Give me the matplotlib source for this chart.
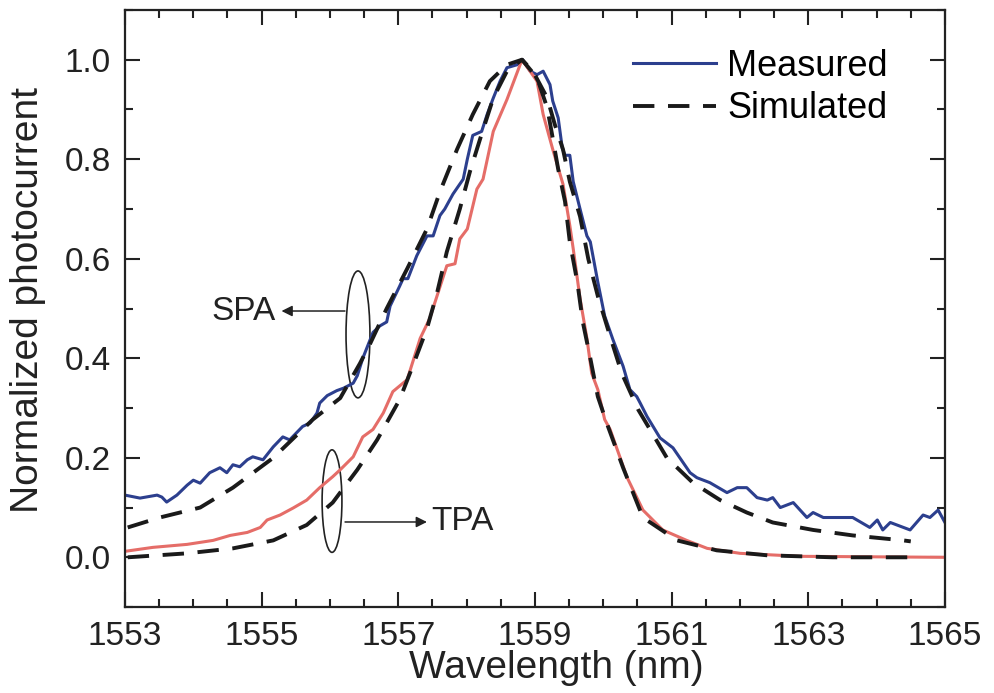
import numpy as np
import matplotlib
matplotlib.use('Agg')
import matplotlib.pyplot as plt
from matplotlib.patches import Ellipse
from matplotlib.ticker import MultipleLocator

plt.rcParams['font.family'] = ['Liberation Sans', 'DejaVu Sans']

# SPA measured (blue)
spa_wl = [1553.00, 1553.22, 1553.47, 1553.54, 1553.61, 1553.76, 1553.91, 1554.00, 1554.10, 1554.24,
          1554.39, 1554.49, 1554.58, 1554.68, 1554.79, 1554.87, 1555.02, 1555.17, 1555.31, 1555.41,
          1555.60, 1555.71, 1555.81, 1555.85, 1555.96, 1556.10, 1556.20, 1556.34, 1556.40, 1556.48,
          1556.63, 1556.73, 1556.83, 1556.88, 1557.02, 1557.07, 1557.14, 1557.27, 1557.42, 1557.51,
          1557.61, 1557.68, 1557.80, 1557.95, 1558.01, 1558.09, 1558.22, 1558.30, 1558.39, 1558.49,
          1558.59, 1558.74, 1558.82, 1558.93, 1559.03, 1559.12, 1559.22, 1559.26, 1559.34, 1559.40,
          1559.44, 1559.51, 1559.56, 1559.66, 1559.76, 1559.81, 1559.92, 1560.02, 1560.14, 1560.29,
          1560.39, 1560.49, 1560.54, 1560.64, 1560.83, 1561.02, 1561.27, 1561.37, 1561.56, 1561.81,
          1561.96, 1562.10, 1562.25, 1562.40, 1562.48, 1562.59, 1562.78, 1562.98, 1563.07, 1563.22,
          1563.65, 1563.90, 1564.01, 1564.09, 1564.20, 1564.49, 1564.68, 1564.78, 1564.90, 1565.00]
spa_meas = [0.125, 0.119, 0.125, 0.121, 0.111, 0.125, 0.145, 0.155, 0.149, 0.170,
            0.180, 0.170, 0.186, 0.182, 0.196, 0.202, 0.196, 0.222, 0.242, 0.236,
            0.263, 0.270, 0.290, 0.310, 0.325, 0.335, 0.340, 0.350, 0.365, 0.400,
            0.452, 0.465, 0.473, 0.505, 0.545, 0.560, 0.560, 0.606, 0.646, 0.646,
            0.687, 0.700, 0.730, 0.760, 0.800, 0.848, 0.856, 0.890, 0.923, 0.957,
            0.984, 0.990, 1.000, 0.977, 0.970, 0.977, 0.950, 0.917, 0.883, 0.822,
            0.808, 0.808, 0.755, 0.700, 0.646, 0.634, 0.553, 0.485, 0.438, 0.384,
            0.337, 0.323, 0.310, 0.283, 0.240, 0.220, 0.170, 0.160, 0.150, 0.130,
            0.140, 0.140, 0.120, 0.115, 0.120, 0.100, 0.110, 0.080, 0.090, 0.080,
            0.080, 0.060, 0.075, 0.055, 0.070, 0.055, 0.085, 0.080, 0.095, 0.070]

# TPA measured (red)
tpa_wl = [1553.00, 1553.41, 1553.91, 1554.29, 1554.54, 1554.79, 1554.98, 1555.08, 1555.27, 1555.46,
          1555.66, 1555.85, 1556.04, 1556.15, 1556.34, 1556.48, 1556.63, 1556.78, 1556.92, 1557.13,
          1557.32, 1557.46, 1557.71, 1557.83, 1557.90, 1558.01, 1558.15, 1558.24, 1558.39, 1558.59,
          1558.81, 1559.03, 1559.12, 1559.26, 1559.41, 1559.51, 1559.56, 1559.66, 1559.76, 1559.83,
          1559.92, 1560.02, 1560.10, 1560.35, 1560.58, 1560.87, 1561.22, 1561.52, 1562.00, 1562.88,
          1565.00]
tpa_meas = [0.012, 0.020, 0.026, 0.034, 0.044, 0.050, 0.060, 0.075, 0.085, 0.099,
            0.115, 0.140, 0.162, 0.176, 0.202, 0.242, 0.257, 0.290, 0.333, 0.357,
            0.440, 0.480, 0.586, 0.590, 0.640, 0.660, 0.740, 0.760, 0.856, 0.920,
            1.000, 0.957, 0.890, 0.820, 0.750, 0.667, 0.620, 0.520, 0.440, 0.370,
            0.337, 0.277, 0.257, 0.160, 0.095, 0.055, 0.034, 0.018, 0.008, 0.002,
            0.000]

# simulated curves (black dashed)
spa_sim_wl = [1553.04, 1553.51, 1554.10, 1554.58, 1555.17, 1555.75, 1556.15, 1556.44, 1556.59, 1556.83,
              1557.13, 1557.42, 1557.61, 1557.86, 1558.09, 1558.34, 1558.59, 1558.81, 1558.97, 1559.18,
              1559.29, 1559.41, 1559.51, 1559.66, 1559.78, 1559.92, 1560.10, 1560.27, 1560.51, 1560.93,
              1561.31, 1561.71, 1562.10, 1562.48, 1563.07, 1563.65, 1564.39, 1564.50]
spa_sim = [0.060, 0.080, 0.100, 0.140, 0.200, 0.277, 0.320, 0.390, 0.430, 0.500,
           0.580, 0.660, 0.735, 0.820, 0.890, 0.957, 0.990, 1.000, 0.977, 0.923,
           0.870, 0.820, 0.755, 0.685, 0.600, 0.525, 0.444, 0.370, 0.297, 0.200,
           0.150, 0.115, 0.090, 0.070, 0.055, 0.044, 0.034, 0.032]

tpa_sim_wl = [1553.04, 1553.91, 1554.58, 1555.17, 1555.66, 1556.04, 1556.40, 1556.69, 1557.02, 1557.21,
              1557.42, 1557.57, 1557.71, 1557.90, 1558.05, 1558.20, 1558.39, 1558.59, 1558.81, 1559.03,
              1559.18, 1559.25, 1559.34, 1559.44, 1559.51, 1559.62, 1559.70, 1559.81, 1559.92, 1560.05,
              1560.29, 1560.58, 1561.08, 1561.66, 1562.40, 1563.36, 1564.59]
tpa_sim = [0.000, 0.008, 0.018, 0.034, 0.065, 0.110, 0.176, 0.236, 0.317, 0.384,
           0.460, 0.533, 0.614, 0.700, 0.776, 0.842, 0.923, 0.977, 1.000, 0.964,
           0.903, 0.850, 0.780, 0.715, 0.634, 0.553, 0.473, 0.400, 0.323, 0.270,
           0.180, 0.080, 0.034, 0.014, 0.004, 0.000, 0.000]

x_ticks = [1553, 1555, 1557, 1559, 1561, 1563, 1565]
y_ticks = [0.0, 0.2, 0.4, 0.6, 0.8, 1.0]
y_ticklabels = ['0.0', '0.2', '0.4', '0.6', '0.8', '1.0']

blue = '#2c3f8e'
red = '#e56d68'
ink = '#222222'

fig = plt.figure(figsize=(9.95, 6.93), dpi=100)
ax = fig.add_axes([0.1256, 0.124, 0.8241, 0.8616])

ax.plot(spa_wl, spa_meas, color=blue, lw=2.2, label='Measured')
ax.plot(tpa_wl, tpa_meas, color=red, lw=2.2)
ax.plot(spa_sim_wl, spa_sim, color='#1a1a1a', lw=2.8, dashes=(5.5, 3.5), label='Simulated')
ax.plot(tpa_sim_wl, tpa_sim, color='#1a1a1a', lw=2.8, dashes=(5.5, 3.5))

ax.set_xlim(1553, 1565)
ax.set_ylim(-0.1, 1.1)
ax.set_xticks(x_ticks)
ax.xaxis.set_minor_locator(MultipleLocator(0.5))
ax.set_yticks(y_ticks)
ax.set_yticklabels(y_ticklabels)
ax.yaxis.set_minor_locator(MultipleLocator(0.1))
ax.tick_params(which='both', direction='in', top=True, right=True, width=1.5, labelsize=24, color=ink,
               labelcolor=ink)
ax.tick_params(which='major', length=11)
ax.tick_params(which='minor', length=6)
ax.tick_params(axis='x', pad=10)
ax.tick_params(axis='y', pad=10)
for s in ax.spines.values():
    s.set_linewidth(1.6)
    s.set_color(ink)

ax.set_xlabel('Wavelength (nm)', fontsize=28, color=ink, va='top')
ax.xaxis.set_label_coords(0.526, -0.072)
ax.set_ylabel('Normalized photocurrent', fontsize=28, color=ink)
ax.yaxis.set_label_coords(-0.096, 0.514)

ax.legend(loc='upper left', bbox_to_anchor=(0.598, 0.965), frameon=False, fontsize=26,
          borderpad=0, handlelength=2.3, handletextpad=0.3, labelspacing=0.2)

# annotations
ax.add_patch(Ellipse((1556.41, 0.448), 0.35, 0.255, fill=False, lw=1.2, color=ink))
ax.annotate('', xy=(1555.25, 0.495), xytext=(1556.26, 0.495),
            arrowprops=dict(arrowstyle='-|>', color=ink, lw=1.1, mutation_scale=16))
ax.text(1555.2, 0.495, 'SPA', fontsize=24, ha='right', va='center', color=ink)

ax.add_patch(Ellipse((1556.03, 0.113), 0.29, 0.206, fill=False, lw=1.2, color=ink))
ax.annotate('', xy=(1557.46, 0.071), xytext=(1556.18, 0.071),
            arrowprops=dict(arrowstyle='-|>', color=ink, lw=1.1, mutation_scale=16))
ax.text(1557.48, 0.071, 'TPA', fontsize=24, ha='left', va='center', color=ink)

plt.savefig('out.png', dpi=100)
